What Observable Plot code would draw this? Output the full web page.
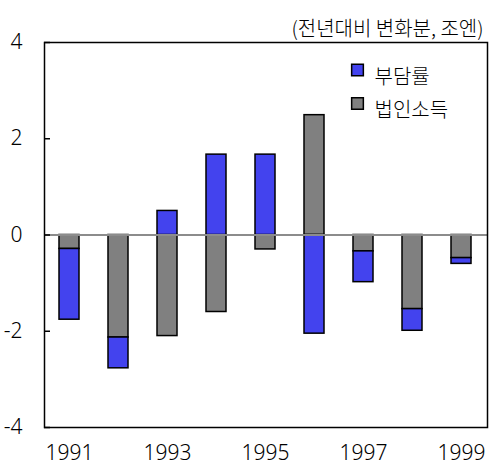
<!DOCTYPE html>
<html>
<head>
<meta charset="utf-8">
<script src="https://cdn.jsdelivr.net/npm/d3@7"></script>
<script src="https://cdn.jsdelivr.net/npm/@observablehq/plot@0.6"></script>
<style>
  html, body { margin: 0; padding: 0; background: #fff; }
  svg { font-family: "Noto Sans", "Noto Sans CJK KR", sans-serif; }
</style>
</head>
<body>
<div id="chart"></div>
<script>
const years = [1991, 1992, 1993, 1994, 1995, 1996, 1997, 1998, 1999];
const seriesNames = ["부담률", "법인소득"];
const burden = [-1.47, -0.64, 0.50, 1.67, 1.67, -2.05, -0.64, -0.45, -0.12];
const income = [-0.29, -2.13, -2.10, -1.60, -0.30, 2.49, -0.34, -1.54, -0.48];
const yTicks = [-4, -2, 0, 2, 4];
const xTickLabels = [1991, 1993, 1995, 1997, 1999];
const unitLabel = "(전년대비 변화분, 조엔)";
const colors = ["#4343EE", "#808080"];

const rows = [
  ...years.map((year, i) => ({year, series: seriesNames[1], value: income[i]})),
  ...years.map((year, i) => ({year, series: seriesNames[0], value: burden[i]}))
];

const korean = '"Noto Sans CJK KR", sans-serif';

const legendMarks = seriesNames.flatMap((name, i) => [
  Plot.dot([name], {frameAnchor: "top-right", dx: -130, dy: 27.5 + i * 33.5, symbol: "square", r: 6.6,
    fill: d => d, stroke: "#000", strokeWidth: 1.5}),
  Plot.text([name], {text: d => d, frameAnchor: "top-right", dx: -113, dy: 27 + i * 33.5, textAnchor: "start",
    fontSize: 20, fill: "#000", fontFamily: korean, fontWeight: 300})
]);

const chart = Plot.plot({
  width: 489,
  height: 468,
  marginTop: 42,
  marginBottom: 41,
  marginLeft: 44,
  marginRight: 2,
  style: {fontSize: "21px", fontFamily: '"Noto Sans", "Noto Sans CJK KR", sans-serif', color: "#000"},
  x: {type: "band", domain: years, paddingInner: 0.59, paddingOuter: 0.295, axis: null},
  y: {domain: [-4, 4], axis: null},
  color: {domain: seriesNames, range: colors},
  marks: [
    Plot.barY(rows, Plot.stackY({x: "year", y: "value", fill: "series", order: null, stroke: "#000", strokeWidth: 1.5})),
    Plot.ruleY([0], {stroke: "#8c8c8c", strokeWidth: 2}),
    Plot.frame({stroke: "#000", strokeWidth: 1.5}),
    Plot.axisY({ticks: yTicks, tickSize: -6, tickPadding: 28, fontSize: 21, fontWeight: 300, tickFormat: d => d, label: null, strokeWidth: 1.5}),
    Plot.axisX({ticks: xTickLabels, tickSize: 0, tickPadding: 18, fontSize: 21, fontWeight: 300, tickFormat: d => String(d), label: null}),
    ...legendMarks,
    Plot.text([unitLabel], {text: d => d, frameAnchor: "top-right", dx: -4, dy: -21, textAnchor: "end", fontSize: 20, fill: "#000",
      fontFamily: korean, fontWeight: 300})
  ]
});
document.getElementById("chart").appendChild(chart);
</script>
</body>
</html>
